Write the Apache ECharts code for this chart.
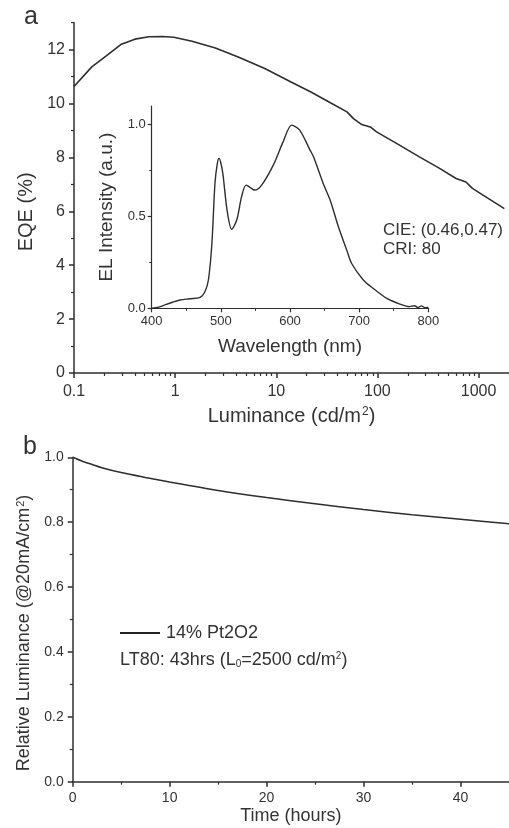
<!DOCTYPE html>
<html>
<head>
<meta charset="utf-8">
<script src="https://cdn.jsdelivr.net/npm/echarts@6/dist/echarts.min.js"></script>
<style>
  html, body { margin: 0; padding: 0; background: #fff; }
  #chart { width: 509px; height: 828px; }
</style>
</head>
<body>
<div id="chart"></div>
<script>
// panel a: EQE vs luminance
const lum = [0.1, 0.15, 0.21, 0.29, 0.4, 0.55, 0.75, 0.97, 1.47, 2.5, 4.2, 7.7, 14, 22, 35, 50, 58, 70, 85, 98, 150, 260, 400, 600, 750, 870, 1200, 1800];
const eqe = [10.63, 11.36, 11.78, 12.19, 12.39, 12.48, 12.49, 12.46, 12.31, 12.06, 11.73, 11.3, 10.8, 10.43, 10.01, 9.69, 9.44, 9.22, 9.13, 8.95, 8.55, 8.02, 7.62, 7.22, 7.09, 6.85, 6.52, 6.1];

// inset: EL spectrum
const wavelength = [400, 410, 420, 430, 441, 455, 470, 477, 482, 487, 491.5, 495, 497.5, 500, 503, 509, 515.7, 523, 530, 536.4, 542, 549, 559, 576, 590, 602.5, 614, 629, 634, 648, 658, 670, 682, 689, 706, 720, 740, 759, 773, 780, 785, 790, 795, 800];
const elIntensity = [0, 0.006, 0.02, 0.033, 0.045, 0.052, 0.06, 0.09, 0.154, 0.35, 0.68, 0.79, 0.815, 0.79, 0.73, 0.534, 0.43, 0.48, 0.607, 0.67, 0.658, 0.643, 0.67, 0.78, 0.905, 0.996, 0.969, 0.86, 0.824, 0.679, 0.589, 0.443, 0.317, 0.245, 0.154, 0.109, 0.054, 0.023, 0.009, 0.014, 0.004, 0.013, 0.003, 0.006];

// panel b: lifetime
const hours = [0, 1, 2, 3, 5, 7.5, 10, 15, 20, 25, 30, 35, 40, 45];
const relLum = [1.0, 0.988, 0.978, 0.968, 0.953, 0.938, 0.924, 0.898, 0.876, 0.857, 0.839, 0.823, 0.809, 0.795];

// ticks
const lumTicks = [0.1, 1, 10, 100, 1000];
const lumMinor = [0.2, 0.3, 0.4, 0.5, 0.6, 0.7, 0.8, 0.9, 2, 3, 4, 5, 6, 7, 8, 9, 20, 30, 40, 50, 60, 70, 80, 90, 200, 300, 400, 500, 600, 700, 800, 900, 2000];
const eqeTicks = [0, 2, 4, 6, 8, 10, 12];
const eqeMinor = [1, 3, 5, 7, 9, 11, 13];
const wlTicks = [400, 500, 600, 700, 800];
const wlMinor = [450, 550, 650, 750];
const elTicks = [0, 0.5, 1.0];
const elMinor = [0.25, 0.75];
const hourTicks = [0, 10, 20, 30, 40];
const hourMinor = [5, 15, 25, 35, 45];
const relTicks = [0, 0.2, 0.4, 0.6, 0.8, 1.0];
const relMinor = [0.1, 0.3, 0.5, 0.7, 0.9];

const FONT = "Liberation Sans";
const INK = "#333";
const LINE = "#2e2e2e";

// 主坐标轴
const mainAxis = (o) => ({
  gridIndex: o.grid,
  type: o.type || "value",
  position: o.pos,
  min: o.min,
  max: o.max,
  logBase: 10,
  name: o.name,
  nameLocation: "middle",
  nameGap: o.nameGap,
  nameTextStyle: Object.assign({
    fontFamily: FONT,
    fontSize: o.nameSize,
    color: INK,
    rich: {
      sup: { fontFamily: FONT, fontSize: Math.round(o.nameSize * 0.6), color: INK, verticalAlign: "top", padding: [0, 0, 0, 1] },
    },
  }, o.nameStyle || {}),
  axisLine: { show: true, onZero: false, lineStyle: { color: LINE, width: o.lw || 1.5 } },
  axisTick: { show: true, inside: false, length: o.tickLen || 5, customValues: o.ticks, lineStyle: { color: LINE, width: o.lw || 1.5 } },
  axisLabel: {
    customValues: o.ticks,
    margin: o.margin,
    fontFamily: FONT,
    fontSize: o.labelSize,
    color: INK,
    formatter: o.fmt,
  },
  splitLine: { show: false },
});

// 次刻度 (overlay axis)
const minorAxis = (o) => ({
  gridIndex: o.grid,
  type: o.type || "value",
  position: o.pos,
  min: o.min,
  max: o.max,
  logBase: 10,
  axisLine: { show: false, onZero: false },
  axisTick: { show: true, inside: false, length: o.len || 3, customValues: o.ticks, lineStyle: { color: LINE, width: o.lw || 1.2 } },
  axisLabel: { show: false },
  splitLine: { show: false },
});

const chart = echarts.init(document.getElementById("chart"), null, { renderer: "canvas" });

chart.setOption({
  animation: false,
  backgroundColor: "#fff",
  grid: [
    { left: 74, right: -4.8, top: 22.7, bottom: 455 },
    { left: 151.7, right: 80.7, top: 106, bottom: 519.7 },
    { left: 72.7, right: -3.8, top: 457.3, bottom: 46.3 },
  ],
  xAxis: [
    mainAxis({ grid: 0, type: "log", pos: "bottom", min: 0.1, max: 2000, ticks: lumTicks,
      name: "Luminance (cd/m{sup|2})", nameGap: 33, nameSize: 20, labelSize: 16, margin: 11,
      fmt: (v) => String(+(+v).toPrecision(3)) }),
    minorAxis({ grid: 0, type: "log", pos: "bottom", min: 0.1, max: 2000, ticks: lumMinor }),
    mainAxis({ grid: 1, pos: "bottom", min: 400, max: 800, ticks: wlTicks, lw: 1.2, tickLen: 4,
      name: "Wavelength (nm)", nameGap: 29, nameSize: 19, labelSize: 13, margin: 7,
      fmt: (v) => String(v) }),
    minorAxis({ grid: 1, pos: "bottom", min: 400, max: 800, ticks: wlMinor, len: 2.5, lw: 1 }),
    mainAxis({ grid: 2, pos: "bottom", min: 0, max: 45, ticks: hourTicks,
      name: "Time (hours)", nameGap: 25, nameSize: 18, labelSize: 14, margin: 9,
      fmt: (v) => String(v) }),
    minorAxis({ grid: 2, pos: "bottom", min: 0, max: 45, ticks: hourMinor }),
  ],
  yAxis: [
    mainAxis({ grid: 0, pos: "left", min: 0, max: 13, ticks: eqeTicks,
      name: "EQE (%)", nameGap: 37, nameSize: 20, labelSize: 16, margin: 9,
      nameStyle: { padding: [0, 28, 0, 0] },
      fmt: (v) => String(v) }),
    minorAxis({ grid: 0, pos: "left", min: 0, max: 13, ticks: eqeMinor }),
    mainAxis({ grid: 1, pos: "left", min: 0, max: 1.1, ticks: elTicks, lw: 1.2, tickLen: 4,
      name: "EL Intensity (a.u.)", nameGap: 35, nameSize: 19, labelSize: 13, margin: 6,
      fmt: (v) => (+v).toFixed(1) }),
    minorAxis({ grid: 1, pos: "left", min: 0, max: 1.1, ticks: elMinor, len: 2.5, lw: 1 }),
    mainAxis({ grid: 2, pos: "left", min: 0, max: 1.0, ticks: relTicks,
      name: "Relative Luminance (@20mA/cm{sup|2})", nameGap: 37, nameSize: 18, labelSize: 14, margin: 9,
      nameStyle: { padding: [0, 27, 0, 0] },
      fmt: (v) => (+v).toFixed(1) }),
    minorAxis({ grid: 2, pos: "left", min: 0, max: 1.0, ticks: relMinor }),
  ],
  legend: {
    data: [{ name: "14% Pt2O2", icon: "path://M0,0 H40 V2 H0 Z" }],
    left: 120,
    top: 624,
    padding: 0,
    itemWidth: 40,
    itemHeight: 2,
    itemStyle: { color: "#222", borderWidth: 0 },
    textStyle: { fontFamily: FONT, fontSize: 18, color: INK, padding: [0, 0, 0, 1] },
  },
  graphic: [
    { type: "text", x: 31, y: 17, style: { text: "a", fontFamily: FONT, fontSize: 25, fill: INK, align: "center", verticalAlign: "middle" } },
    { type: "text", x: 30, y: 447, style: { text: "b", fontFamily: FONT, fontSize: 25, fill: INK, align: "center", verticalAlign: "middle" } },
    { type: "text", x: 383, y: 221, style: { text: "CIE: (0.46,0.47)\nCRI: 80", fontFamily: FONT, fontSize: 17, lineHeight: 19, fill: INK, align: "left", verticalAlign: "top" } },
    { type: "text", x: 120, y: 660, style: {
        text: "LT80: 43hrs (L{sub|0}=2500 cd/m{sup|2})",
        fontFamily: FONT, fontSize: 18, fill: INK, align: "left", verticalAlign: "middle",
        rich: {
          sub: { fontFamily: FONT, fontSize: 10, fill: INK, verticalAlign: "bottom" },
          sup: { fontFamily: FONT, fontSize: 10, fill: INK, verticalAlign: "top" },
        },
      } },
  ],
  series: [
    {
      name: "EQE",
      type: "line",
      xAxisIndex: 0,
      yAxisIndex: 0,
      symbol: "none",
      lineStyle: { color: LINE, width: 1.6 },
      data: lum.map((x, i) => [x, eqe[i]]),
    },
    {
      name: "EL",
      type: "line",
      xAxisIndex: 2,
      yAxisIndex: 2,
      symbol: "none",
      smooth: 0.3,
      lineStyle: { color: LINE, width: 1.4 },
      data: wavelength.map((x, i) => [x, elIntensity[i]]),
    },
    {
      name: "14% Pt2O2",
      type: "line",
      xAxisIndex: 4,
      yAxisIndex: 4,
      symbol: "none",
      smooth: 0.3,
      lineStyle: { color: LINE, width: 1.5 },
      itemStyle: { color: LINE },
      data: hours.map((x, i) => [x, relLum[i]]),
    },
  ],
});
</script>
</body>
</html>
